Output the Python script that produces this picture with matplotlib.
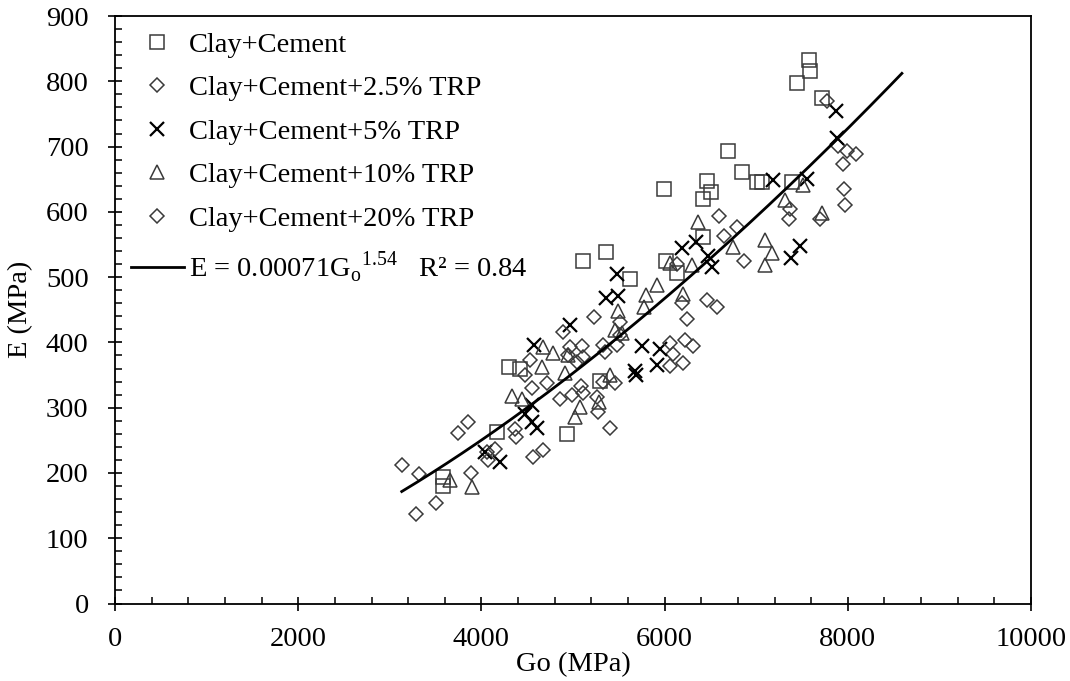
import numpy as np
import matplotlib.pyplot as plt
from matplotlib.ticker import MultipleLocator

plt.rcParams['font.family'] = ['Liberation Serif', 'DejaVu Serif']
plt.rcParams['mathtext.fontset'] = 'custom'
plt.rcParams['mathtext.rm'] = 'Liberation Serif'

# Clay+Cement
cc_g = [7576, 7587, 7445, 7718, 7391, 7063, 6692, 6845, 7009, 6463, 6507, 6419, 5993,
        6015, 6135, 5360, 5109, 5622, 6419, 4301, 4421, 4934, 5295, 4170, 3581, 3581]
cc_e = [833, 815, 798, 775, 646, 646, 693, 661, 646, 647, 630, 620, 635,
        525, 506, 539, 525, 497, 562, 362, 359, 260, 341, 263, 194, 180]

# Clay+Cement+2.5% TRP
t25_g = [7893, 8089, 7959, 7697, 7358, 6594, 6649, 6135, 6572, 6245, 6223, 6092, 6201,
         5229, 4967, 4945, 5109, 5349, 5513, 5480, 4989, 5109, 5328, 5273, 4476, 4552,
         4672, 4563, 3745, 4378, 4061, 3133, 3886, 3286]
t25_e = [701, 689, 635, 589, 589, 594, 563, 520, 454, 436, 404, 382, 369,
         439, 393, 381, 378, 385, 411, 396, 320, 323, 339, 293, 350, 330,
         235, 224, 261, 255, 232, 212, 200, 137]

# Clay+Cement+5% TRP
t5_g = [7871, 7882, 7183, 7555, 7478, 7380, 6190, 6343, 6474, 6517, 5480, 5360, 5491,
        4967, 5753, 5950, 5917, 5677, 5690, 4570, 4552, 4476, 4552, 4607, 4039, 4203]
t5_e = [755, 713, 649, 650, 548, 529, 545, 554, 532, 516, 505, 468, 471,
        427, 395, 390, 366, 356, 350, 396, 304, 290, 278, 269, 232, 217]

# Clay+Cement+10% TRP
t10_g = [7511, 7314, 7718, 7096, 7172, 7096, 6365, 6747, 6299, 6059, 5917, 5797, 6201,
         5775, 5491, 5459, 5535, 4950, 4782, 4913, 5404, 5076, 5022, 5284, 4672, 4662,
         4334, 4443, 3657, 3897]
t10_e = [641, 618, 598, 557, 537, 519, 585, 546, 519, 522, 488, 473, 474,
         454, 448, 419, 415, 380, 383, 353, 350, 301, 286, 309, 393, 362,
         318, 314, 189, 179]

# Clay+Cement+20% TRP
t20_g = [7991, 7948, 7969, 7369, 7773, 6790, 6867, 6463, 6190, 6059, 6310, 6059,
         4891, 5098, 5044, 5328, 5513, 4858, 5087, 5262, 5459, 5404, 4531, 4716,
         3854, 4367, 4148, 4072, 3319, 3504]
t20_e = [693, 673, 611, 605, 770, 577, 525, 465, 460, 399, 395, 364,
         416, 395, 370, 396, 431, 313, 333, 316, 338, 269, 373, 338,
         278, 267, 237, 220, 198, 154]

# power-law trend line E = a * Go^b
fit_a, fit_b = 0.00071, 1.54
fit_range = (3130, 8590)

fig = plt.figure(figsize=(10.7, 6.81), dpi=100)
ax = fig.add_axes([0.1075, 0.1138, 0.8561, 0.8627])

edge = '#3a3a3a'
ms = 10
ax.plot(cc_g, cc_e, ls='none', marker='s', ms=ms, mfc='none', mec=edge, mew=1.1,
        label='Clay+Cement')
ax.plot(t25_g, t25_e, ls='none', marker='D', ms=ms * 0.75, mfc='none', mec=edge, mew=1.1,
        label='Clay+Cement+2.5% TRP')
ax.plot(t5_g, t5_e, ls='none', marker='x', ms=ms, mec='black', mew=1.6,
        label='Clay+Cement+5% TRP')
ax.plot(t10_g, t10_e, ls='none', marker='^', ms=ms, mfc='none', mec=edge, mew=1.1,
        label='Clay+Cement+10% TRP')
ax.plot(t20_g, t20_e, ls='none', marker='D', ms=ms * 0.75, mfc='none', mec=edge, mew=1.1,
        label='Clay+Cement+20% TRP')

g_fit = np.linspace(fit_range[0], fit_range[1], 200)
ax.plot(g_fit, fit_a * g_fit ** fit_b, color='black', lw=2,
        label=r'E = 0.00071G$_\mathregular{o}$$^\mathregular{1.54}$   R² = 0.84')

fs = 20.5
ax.set_xlim(0, 10000)
ax.set_ylim(0, 900)
ax.xaxis.set_major_locator(MultipleLocator(2000))
ax.xaxis.set_minor_locator(MultipleLocator(400))
ax.yaxis.set_major_locator(MultipleLocator(100))
ax.yaxis.set_minor_locator(MultipleLocator(20))
ax.tick_params(which='major', direction='inout', length=10, width=1.2, labelsize=fs)
ax.tick_params(axis='y', which='major', pad=14)
ax.tick_params(axis='x', which='major', pad=12)
ax.tick_params(which='minor', direction='in', length=5, width=1.1)
for s in ax.spines.values():
    s.set_linewidth(1.3)

ax.set_xlabel('Go (MPa)', fontsize=fs, va='center')
ax.set_ylabel('E (MPa)', fontsize=fs, va='center')
ax.xaxis.set_label_coords(0.5, -0.104)
ax.yaxis.set_label_coords(-0.103, 0.5)

ax.legend(loc='upper left', frameon=False, fontsize=fs, handlelength=1.86,
          handletextpad=0.2, labelspacing=0.62, borderaxespad=0.15,
          bbox_to_anchor=(0.0, 1.0))

fig.savefig('out.png', dpi=100)
